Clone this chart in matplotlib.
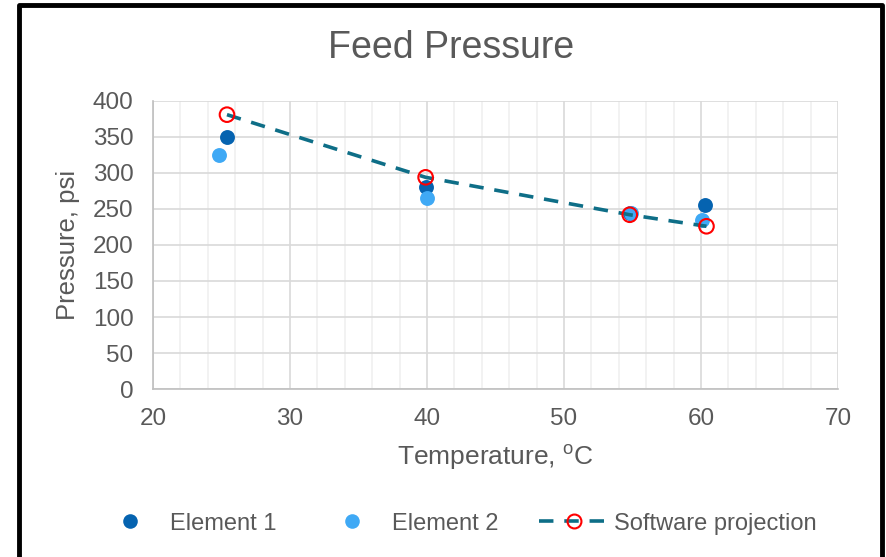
import matplotlib
matplotlib.use("Agg")
import matplotlib.pyplot as plt
from matplotlib.lines import Line2D
from matplotlib.ticker import MultipleLocator

plt.rcParams["font.family"] = ["Liberation Sans", "DejaVu Sans"]

# data
e1_temp = [25.4, 39.9, 54.8, 60.3]
e1_pres = [350, 280, 244, 255]
e2_temp = [24.8, 40.0, 54.9, 60.1]
e2_pres = [325, 265, 245, 235]
sw_temp = [25.4, 39.9, 54.8, 60.4]
sw_pres = [381, 294, 242, 226]

TXT = "#595959"
C_E1 = "#0563B0"
C_E2 = "#3FA9F5"
C_SW = "#0E6E87"
DASH = (4.0, 3.0)

fig = plt.figure(figsize=(8.86, 5.57), dpi=100)
ax = fig.add_axes([0.1727, 0.3016, 0.7731, 0.5171])

ax.scatter(e1_temp, e1_pres, s=115, color=C_E1, zorder=3, linewidths=0)
ax.scatter(e2_temp, e2_pres, s=115, color=C_E2, zorder=3, linewidths=0)
ax.plot(sw_temp, sw_pres, color=C_SW, linewidth=2.6, dashes=DASH, zorder=4)
ax.scatter(sw_temp, sw_pres, s=110, facecolors="none", edgecolors="#FF0000",
           linewidths=1.5, zorder=5)

ax.set_xlim(20, 70)
ax.set_ylim(0, 400)
ax.xaxis.set_major_locator(MultipleLocator(10))
ax.xaxis.set_minor_locator(MultipleLocator(2))
ax.yaxis.set_major_locator(MultipleLocator(50))
ax.grid(True, which="major", color="#D9D9D9", linewidth=1.2)
ax.grid(True, which="minor", axis="x", color="#F0F0F0", linewidth=1.2)
ax.set_axisbelow(True)
for s in ("top", "right"):
    ax.spines[s].set_visible(False)
for s in ("left", "bottom"):
    ax.spines[s].set_color("#BFBFBF")
    ax.spines[s].set_linewidth(1.2)
ax.tick_params(which="both", length=0, labelsize=17.5, labelcolor=TXT)
ax.tick_params(axis="x", pad=14)
ax.tick_params(axis="y", pad=14)

ax.set_xlabel("Temperature, $\\mathregular{^o}$C", fontsize=19, color=TXT,
              labelpad=9)
ax.set_ylabel("Pressure, psi", fontsize=18.5, color=TXT, labelpad=9)
fig.text(0.509, 0.913, "Feed Pressure", fontsize=27, color=TXT,
         ha="center", va="center")

handles = [
    Line2D([], [], marker="o", linestyle="none", markersize=10.5,
           color=C_E1, markeredgewidth=0, label="Element 1"),
    Line2D([], [], marker="o", linestyle="none", markersize=10.5,
           color=C_E2, markeredgewidth=0, label="Element 2"),
    Line2D([], [], color=C_SW, linewidth=2.6, dashes=DASH,
           marker="o", markersize=10, markerfacecolor="none",
           markeredgecolor="#FF0000", markeredgewidth=1.5,
           label="Software projection"),
]
fig.legend(handles=handles, loc="center", bbox_to_anchor=(0.514, 0.06),
           ncol=3, frameon=False, fontsize=17, labelcolor=TXT,
           columnspacing=1.7, handlelength=3.0, handletextpad=0.2)

# black frame around the chart (open at the bottom)
fig.add_artist(Line2D([0.022, 0.022, 0.995, 0.995],
                      [0.0, 0.991, 0.991, 0.0],
                      transform=fig.transFigure, color="black",
                      linewidth=3.5))

fig.savefig("out.png", dpi=100)
